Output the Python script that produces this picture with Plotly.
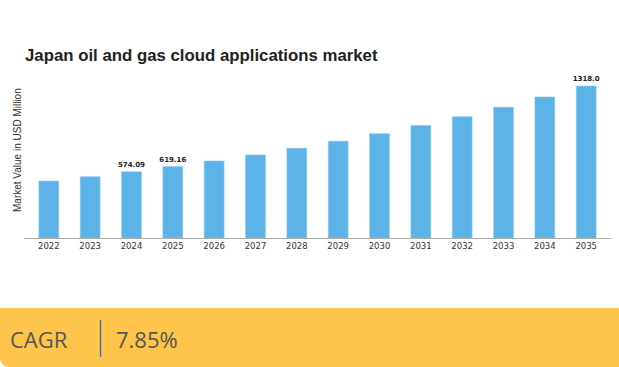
import plotly.graph_objects as go

years = ["2022", "2023", "2024", "2025", "2026", "2027", "2028",
         "2029", "2030", "2031", "2032", "2033", "2034", "2035"]
values = [494.0, 532.0, 574.09, 619.16, 668.0, 720.0, 778.0,
          840.0, 905.0, 976.0, 1052.0, 1135.0, 1223.0, 1318.0]
labels = ["", "", "574.09", "619.16", "", "", "", "", "", "", "", "", "", "1318.0"]

title_text = "Japan oil and gas cloud applications market"
y_title = "Market Value in USD Million"
cagr_label = "CAGR"
cagr_value = "7.85%"

W, H = 619, 367
ML, MR, MT, MB = 24, 8, 70, 129
PW = W - ML - MR
PH = H - MT - MB

def px(x):
    return (x - ML) / PW

def py(y):
    return (H - MB - y) / PH

fig = go.Figure()
fig.add_trace(go.Bar(
    x=years, y=values, text=labels, textposition="outside",
    constraintext="none",
    textfont=dict(family="DejaVu Sans", size=7, color="#222222", weight="bold"),
    marker=dict(color="#5BB3E8", line=dict(color="#8ccaf0", width=0.6)),
    width=0.48, cliponaxis=False, hoverinfo="skip",
))

shapes = []
r = 10
path = (f"M {px(0)},{py(308)} L {px(W)},{py(308)} L {px(W)},{py(367)} "
        f"L {px(r)},{py(367)} Q {px(0)},{py(367)} {px(0)},{py(367 - r)} Z")
shapes.append(dict(type="path", xref="paper", yref="paper", path=path,
                   fillcolor="#FFC44A", line=dict(width=0), layer="below"))
shapes.append(dict(type="line", xref="paper", yref="paper",
                   x0=px(100.5), x1=px(100.5), y0=py(320), y1=py(357),
                   line=dict(color="#2f6db5", width=1.3)))

annotations = [
    dict(text=f"<b>{title_text}</b>", xref="paper", yref="paper",
         x=px(23), y=py(55), xanchor="left", yanchor="middle", showarrow=False,
         font=dict(family="Liberation Sans, Arial", size=16.8, color="#222222")),
    dict(text=y_title, xref="paper", yref="paper", x=px(17), y=py(150),
         xanchor="center", yanchor="middle", textangle=-90, showarrow=False,
         font=dict(family="Liberation Sans, Arial", size=10, color="#333333")),
    dict(text=cagr_label, xref="paper", yref="paper", x=px(8), y=py(339),
         xanchor="left", yanchor="middle", showarrow=False,
         font=dict(family="Open Sans", size=22, color="#555555")),
    dict(text=cagr_value, xref="paper", yref="paper", x=px(114), y=py(339),
         xanchor="left", yanchor="middle", showarrow=False,
         font=dict(family="Open Sans", size=22, color="#555555")),
]

fig.update_layout(
    width=W, height=H,
    margin=dict(l=ML, r=MR, t=MT, b=MB, pad=0),
    paper_bgcolor="white", plot_bgcolor="white",
    showlegend=False,
    shapes=shapes, annotations=annotations,
    xaxis=dict(type="category", range=[-0.6, 13.6], showgrid=False,
               showline=True, linecolor="#aaaaaa", linewidth=1.2,
               ticks="", tickfont=dict(family="DejaVu Sans", size=8.5, color="#333333"),
               fixedrange=True),
    yaxis=dict(range=[0, 1457], showgrid=False, showticklabels=False,
               zeroline=False, showline=False, fixedrange=True),
)

fig.write_html("out.html", config={"displayModeBar": False},
               post_script="document.body.style.margin='0';document.body.style.overflow='hidden';")
